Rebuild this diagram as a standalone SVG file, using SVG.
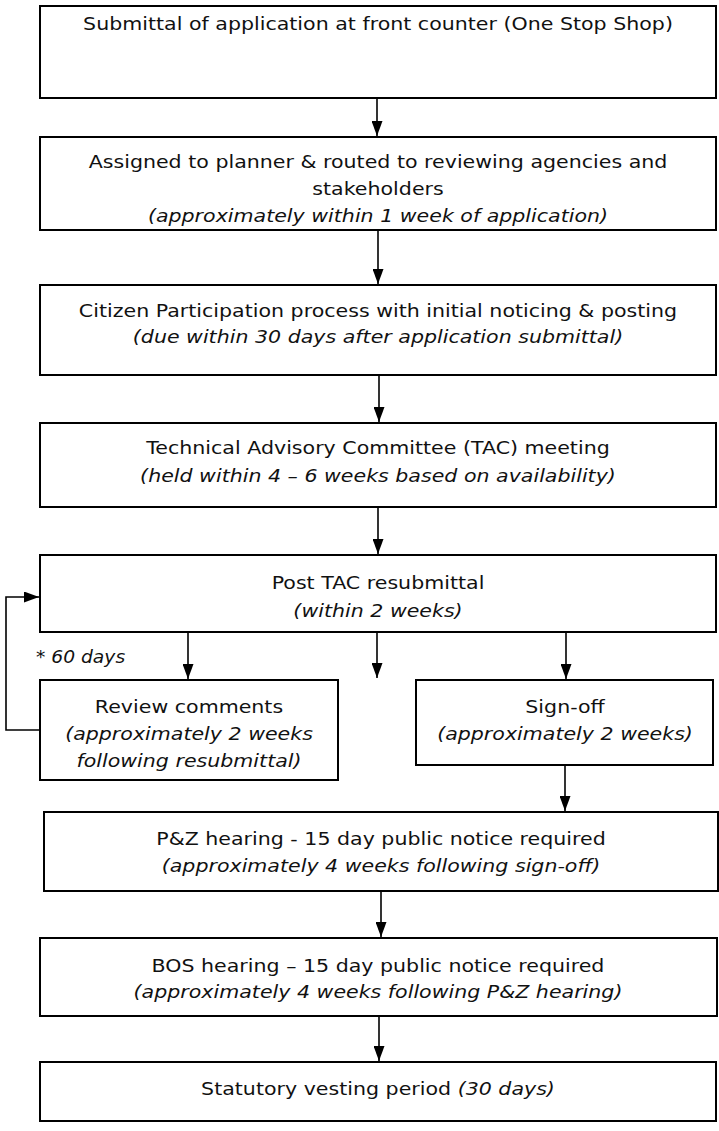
<svg xmlns="http://www.w3.org/2000/svg" width="719" height="1131" viewBox="0 0 719 1131">
<style>
rect.box{fill:#fff;stroke:#000;stroke-width:2}
text{font-family:"DejaVu Sans","Liberation Sans",sans-serif;font-size:17px;fill:#111;text-anchor:middle}
.i{font-style:italic}
.conn{fill:none;stroke:#000;stroke-width:1.6}
</style>
<defs>
<marker id="ah" markerWidth="15" markerHeight="11" refX="15" refY="5.5" orient="auto" markerUnits="userSpaceOnUse" viewBox="0 0 15 11"><path d="M0,0 L15,5.5 L0,11 z" fill="#000"/></marker>
</defs>
<rect width="719" height="1131" fill="#fff"/>
<g id="connectors">
<line class="conn" x1="377" y1="98" x2="377" y2="136" marker-end="url(#ah)"/>
<line class="conn" x1="378" y1="230" x2="378" y2="284" marker-end="url(#ah)"/>
<line class="conn" x1="379" y1="375" x2="379" y2="422" marker-end="url(#ah)"/>
<line class="conn" x1="378" y1="507" x2="378" y2="554" marker-end="url(#ah)"/>
<line class="conn" x1="188" y1="632" x2="188" y2="679" marker-end="url(#ah)"/>
<line class="conn" x1="377" y1="632" x2="377" y2="678" marker-end="url(#ah)"/>
<line class="conn" x1="566" y1="632" x2="566" y2="679" marker-end="url(#ah)"/>
<line class="conn" x1="565" y1="765" x2="565" y2="811" marker-end="url(#ah)"/>
<line class="conn" x1="381" y1="891" x2="381" y2="937" marker-end="url(#ah)"/>
<line class="conn" x1="379" y1="1016" x2="379" y2="1061" marker-end="url(#ah)"/>
<path class="conn" d="M40,730 H6 V597 H39" marker-end="url(#ah)"/>
<g transform="translate(36,0) scale(1.1,1)"><text class="i" x="0" y="663" style="text-anchor:start">* 60 days</text></g>
</g>
<g id="n1">
<rect class="box" x="40" y="6" width="676" height="92"/>
<g transform="translate(378,0) scale(1.21,1)"><text x="0" y="30">Submittal of application at front counter (One Stop Shop)</text></g>
</g>
<g id="n2">
<rect class="box" x="40" y="137" width="676" height="93"/>
<g transform="translate(378,0) scale(1.21,1)">
<text x="0" y="168">Assigned to planner &amp; routed to reviewing agencies and</text>
<text x="0" y="195">stakeholders</text>
<text class="i" x="0" y="222">(approximately within 1 week of application)</text>
</g>
</g>
<g id="n3">
<rect class="box" x="40" y="285" width="676" height="90"/>
<g transform="translate(378,0) scale(1.21,1)">
<text x="0" y="317">Citizen Participation process with initial noticing &amp; posting</text>
<text class="i" x="0" y="343">(due within 30 days after application submittal)</text>
</g>
</g>
<g id="n4">
<rect class="box" x="40" y="423" width="676" height="84"/>
<g transform="translate(378,0) scale(1.21,1)">
<text x="0" y="454">Technical Advisory Committee (TAC) meeting</text>
<text class="i" x="0" y="482">(held within 4 – 6 weeks based on availability)</text>
</g>
</g>
<g id="n5">
<rect class="box" x="40" y="555" width="676" height="77"/>
<g transform="translate(378,0) scale(1.21,1)">
<text x="0" y="589">Post TAC resubmittal</text>
<text class="i" x="0" y="617">(within 2 weeks)</text>
</g>
</g>
<g id="review">
<rect class="box" x="40" y="680" width="298" height="100"/>
<g transform="translate(189,0) scale(1.21,1)">
<text x="0" y="713">Review comments</text>
<text class="i" x="0" y="740">(approximately 2 weeks</text>
<text class="i" x="0" y="767">following resubmittal)</text>
</g>
</g>
<g id="signoff">
<rect class="box" x="416" y="680" width="297" height="85"/>
<g transform="translate(565,0) scale(1.21,1)">
<text x="0" y="713">Sign-off</text>
<text class="i" x="0" y="740">(approximately 2 weeks)</text>
</g>
</g>
<g id="pz">
<rect class="box" x="44" y="812" width="674" height="79"/>
<g transform="translate(381,0) scale(1.21,1)">
<text x="0" y="845">P&amp;Z hearing - 15 day public notice required</text>
<text class="i" x="0" y="872">(approximately 4 weeks following sign-off)</text>
</g>
</g>
<g id="bos">
<rect class="box" x="40" y="938" width="677" height="78"/>
<g transform="translate(378,0) scale(1.21,1)">
<text x="0" y="972">BOS hearing – 15 day public notice required</text>
<text class="i" x="0" y="998">(approximately 4 weeks following P&amp;Z hearing)</text>
</g>
</g>
<g id="stat">
<rect class="box" x="40" y="1062" width="676" height="59"/>
<g transform="translate(378,0) scale(1.21,1)">
<text x="0" y="1095">Statutory vesting period <tspan class="i">(30 days)</tspan></text>
</g>
</g>
</svg>
